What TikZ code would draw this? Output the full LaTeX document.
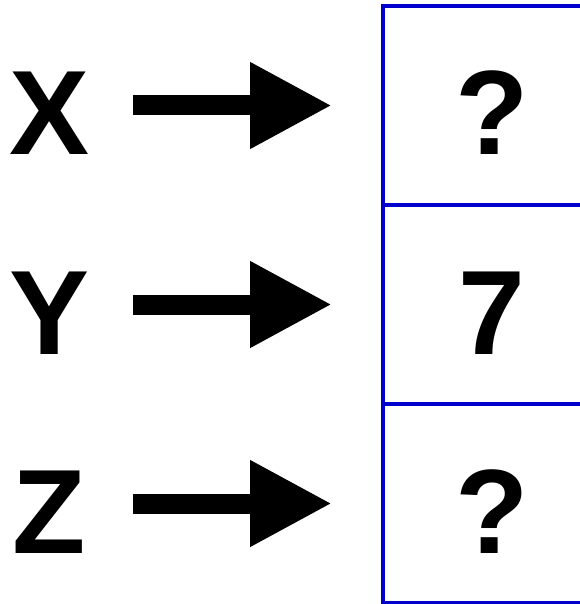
\documentclass[tikz,border=0pt]{standalone}
\usepackage{fontspec}
\setmainfont{Liberation Sans}
\usetikzlibrary{arrows.meta}
\begin{document}
\begin{tikzpicture}[
		x=1pt, y=-1pt,
		letter/.style={
			inner sep=0pt, minimum width=80pt,
			font=\fontsize{120}{144}\selectfont\bfseries,
			text height=99pt, text depth=0pt
		},
		cell/.style={
			draw=cellcol, line width=4.75pt, minimum width=218pt,
			minimum height=199pt, inner sep=0pt,
			font=\fontsize{120}{144}\selectfont\bfseries,
			text height=99pt, text depth=0pt
		},
		bigarrow/.style={
			line width=20pt, -{Triangle[length=82pt, width=81pt]},
			shorten <=43.5pt, shorten >=48.6pt
		}
		]
		
		\definecolor{cellcol}{RGB}{0,0,204}
		
		\useasboundingbox (0,0) rectangle (579,604);
		
		\node[letter] (x) at (49.5, 105.5) {X};
		\node[letter] (y) at (49.5, 304.5) {Y};
		\node[letter] (z) at (49.5, 503.5) {Z};
		
		\node[cell] (cx) at (492, 105.5) {?};
		\node[cell] (cy) at (492, 304.5) {7};
		\node[cell] (cz) at (492, 503.5) {?};
		
		\draw[bigarrow] (x) -- (cx);
		\draw[bigarrow] (y) -- (cy);
		\draw[bigarrow] (z) -- (cz);
		
	\end{tikzpicture}
\end{document}
